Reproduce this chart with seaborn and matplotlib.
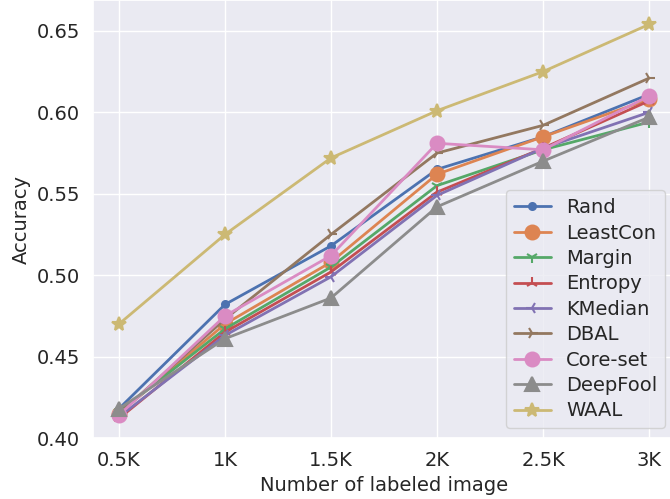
import matplotlib
matplotlib.use("Agg")
import matplotlib.pyplot as plt
import seaborn as sns
import pandas as pd

budgets = ["0.5K", "1K", "1.5K", "2K", "2.5K", "3K"]
rand     = [0.418, 0.482, 0.518, 0.565, 0.585, 0.611]
leastcon = [0.415, 0.470, 0.508, 0.562, 0.585, 0.608]
margin   = [0.416, 0.467, 0.505, 0.555, 0.577, 0.594]
entropy  = [0.412, 0.465, 0.502, 0.551, 0.578, 0.607]
kmedian  = [0.413, 0.463, 0.499, 0.549, 0.578, 0.600]
dbal     = [0.415, 0.473, 0.525, 0.575, 0.592, 0.621]
coreset  = [0.414, 0.475, 0.512, 0.581, 0.577, 0.610]
deepfool = [0.418, 0.461, 0.486, 0.542, 0.570, 0.597]
waal     = [0.470, 0.525, 0.572, 0.601, 0.625, 0.654]

methods = ["Rand", "LeastCon", "Margin", "Entropy", "KMedian", "DBAL",
           "Core-set", "DeepFool", "WAAL"]
series = [rand, leastcon, margin, entropy, kmedian, dbal, coreset, deepfool, waal]
markers = [".", "o", "1", "2", "3", "4", "o", "^", "*"]
msizes = [10, 10, 9, 9, 9, 9, 10, 10, 10]

rows = []
for m, vals in zip(methods, series):
    for b, v in zip(budgets, vals):
        rows.append({"budget": b, "acc": v, "method": m})
df = pd.DataFrame(rows)

sns.set_theme(style="darkgrid", font_scale=1.2)
colors = sns.color_palette("deep", 9)

fig = plt.figure(figsize=(6.7, 4.99), dpi=100)
# axes slightly wider than the figure on the right, like the cropped original
ax = fig.add_axes([93 / 670, 61 / 499, 582 / 670, 438 / 499])
for i, m in enumerate(methods):
    d = df[df.method == m]
    ax.plot(d["budget"], d["acc"], marker=markers[i], markersize=msizes[i],
            color=colors[i], linewidth=2, label=m, markeredgewidth=1.5)

ax.set_xlabel("Number of labeled image", fontsize=14)
ax.set_ylabel("Accuracy", fontsize=14)
ax.set_xlim(-0.245, 5.245)
ax.set_ylim(0.40, 0.669)
ax.set_yticks([0.40, 0.45, 0.50, 0.55, 0.60, 0.65])
ax.set_yticklabels(["0.40", "0.45", "0.50", "0.55", "0.60", "0.65"])
ax.tick_params(labelsize=14)
ax.legend(loc="lower right", fontsize=14, labelspacing=0.33, handlelength=1.9)
plt.savefig("out.png", dpi=100)
